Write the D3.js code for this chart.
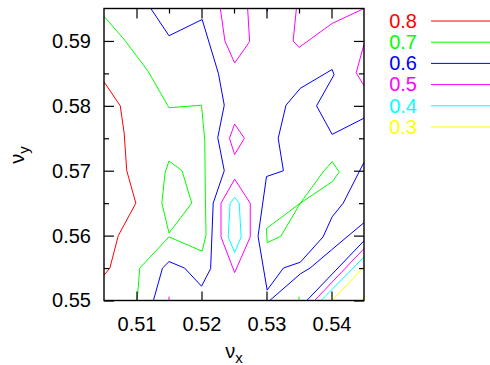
<!DOCTYPE html>
<html>
<head>
<meta charset="utf-8">
<script src="https://cdn.jsdelivr.net/npm/d3@7"></script>
<style>
  body { margin: 0; background: #fff; }
  svg { display: block; font-family: "Liberation Sans", Arial, sans-serif; }
</style>
</head>
<body>
<svg id="chart" width="490" height="365"></svg>
<script>
// contour levels (legend order) 
var levels = ["0.8", "0.7", "0.6", "0.5", "0.4", "0.3"];

// contour polylines per level, points are [nu_x, nu_y]
var c08 = [
  [[0.505,0.5837],[0.5075,0.5800],[0.5081,0.5758],[0.5085,0.5700],[0.5099,0.5650],[0.5072,0.5600],[0.5059,0.5550],[0.505,0.5539]]
];
var c07 = [
  [[0.505,0.5938],[0.5082,0.5901],[0.5118,0.5853],[0.5150,0.5797],[0.5200,0.5801],[0.5205,0.5747],[0.5206,0.5655],[0.5207,0.5601],[0.5201,0.5576],[0.5150,0.5598],[0.5105,0.5550],[0.5101,0.5500]],
  [[0.5150,0.5715],[0.5170,0.5700],[0.5185,0.5650],[0.5150,0.5604],[0.5139,0.5650],[0.5144,0.5697],[0.5150,0.5715]],
  [[0.5401,0.5714],[0.5412,0.5698],[0.5401,0.5683],[0.5352,0.5650],[0.5322,0.5599],[0.5301,0.5589],[0.5300,0.5611],[0.5352,0.5650],[0.5387,0.5698],[0.5401,0.5714]],
  [[0.5350,0.5500],[0.5350,0.5506]]
];
var c06 = [
  [[0.5122,0.595],[0.5150,0.5908],[0.5201,0.5933],[0.5226,0.5850],[0.5235,0.5801],[0.5225,0.5751],[0.5235,0.5700],[0.5218,0.5650],[0.5214,0.5549],[0.5200,0.5522],[0.5174,0.5550],[0.5150,0.5560],[0.5140,0.5550],[0.5126,0.5500]],
  [[0.545,0.5781],[0.5401,0.5756],[0.5377,0.5800],[0.5404,0.5848],[0.5401,0.5856],[0.5352,0.5827],[0.5330,0.5801],[0.5318,0.5750],[0.5326,0.5700],[0.5300,0.5691],[0.5287,0.5599],[0.5301,0.5516],[0.5326,0.5550],[0.5352,0.5559],[0.5387,0.5598],[0.5401,0.5629],[0.5418,0.5650],[0.545,0.5713]],
  [[0.5305,0.5500],[0.5352,0.5541],[0.5367,0.5550],[0.5400,0.5578],[0.545,0.5620]],
  [[0.5362,0.5500],[0.5407,0.5547],[0.545,0.5592]],
  [[0.5301,0.595],[0.5301,0.5945]]
];
var c05 = [
  [[0.5229,0.595],[0.5236,0.5900],[0.5251,0.5866],[0.5274,0.5899],[0.5271,0.595]],
  [[0.5346,0.595],[0.5341,0.5900],[0.5350,0.5890],[0.5401,0.5927],[0.545,0.595]],
  [[0.545,0.5895],[0.5438,0.5851],[0.545,0.5831]],
  [[0.5251,0.5772],[0.5266,0.5750],[0.5251,0.5725],[0.5243,0.5750],[0.5251,0.5772]],
  [[0.5251,0.5687],[0.5275,0.5650],[0.5275,0.5598],[0.5251,0.5543],[0.5230,0.5598],[0.5230,0.5650],[0.5251,0.5687]],
  [[0.5374,0.5500],[0.545,0.5580]],
  [[0.5150,0.5500],[0.5150,0.5506]]
];
var c04 = [
  [[0.5251,0.5659],[0.5258,0.5650],[0.5261,0.5598],[0.5251,0.5574],[0.5241,0.5598],[0.5244,0.5650],[0.5251,0.5659]],
  [[0.5384,0.5500],[0.545,0.5567]]
];
var c03 = [
  [[0.5401,0.5500],[0.545,0.5552]],
  [[0.545,0.5507],[0.5447,0.5500]]
];

var xMajor = [0.51, 0.52, 0.53, 0.54];
var xMinorTop = [0.515, 0.525, 0.535];
var yMajor = [0.55, 0.56, 0.57, 0.58, 0.59];
var yMinor = [0.555, 0.565, 0.575, 0.585];

var colors = ["#ff0000", "#00ff00", "#0000ff", "#ff00ff", "#00ffff", "#ffff00"];
var contours = [c08, c07, c06, c05, c04, c03];

var svg = d3.select('#chart');

var x = d3.scaleLinear().domain([0.505, 0.545]).range([104, 364]);
var y = d3.scaleLinear().domain([0.55, 0.595]).range([300.5, 8.5]);

var line = d3.line().x(d => x(d[0])).y(d => y(d[1]));

// contour lines
contours.forEach(function(set, i) {
    svg.append('g')
      .selectAll('path')
      .data(set)
      .join('path')
      .attr('d', line)
      .attr('fill', 'none')
      .attr('stroke', colors[i])
      .attr('stroke-width', 1);
});

// axes with inward ticks
function styleAxis(g) {
    g.select('.domain').remove();
    g.selectAll('line').attr('stroke', '#000').attr('stroke-width', 1.2);
    g.selectAll('text').attr('font-size', '20px').attr('fill', '#000')
      .attr('font-family', '"Liberation Sans", Arial, sans-serif');
}

svg.append('g')
  .attr('transform', 'translate(0,' + 300.5 + ')')
  .call(d3.axisBottom(x).tickValues(xMajor).tickSize(-9).tickPadding(16).tickFormat(d3.format('.2f')))
  .call(styleAxis);

svg.append('g')
  .attr('transform', 'translate(0,' + 8.5 + ')')
  .call(d3.axisTop(x).tickValues(xMajor).tickSize(-10).tickFormat(''))
  .call(styleAxis);
svg.append('g')
  .attr('transform', 'translate(0,' + 8.5 + ')')
  .call(d3.axisTop(x).tickValues(xMinorTop).tickSize(-5).tickFormat(''))
  .call(styleAxis);

svg.append('g')
  .attr('transform', 'translate(104,0)')
  .call(d3.axisLeft(y).tickValues(yMajor).tickSize(-10).tickPadding(13).tickFormat(d3.format('.2f')))
  .call(styleAxis);
svg.append('g')
  .attr('transform', 'translate(104,0)')
  .call(d3.axisLeft(y).tickValues(yMinor).tickSize(-5).tickFormat(''))
  .call(styleAxis);

svg.append('g')
  .attr('transform', 'translate(364,0)')
  .call(d3.axisRight(y).tickValues(yMajor).tickSize(-10).tickFormat(''))
  .call(styleAxis);
svg.append('g')
  .attr('transform', 'translate(364,0)')
  .call(d3.axisRight(y).tickValues(yMinor).tickSize(-5).tickFormat(''))
  .call(styleAxis);

// frame
svg.append('rect')
  .attr('x', 104).attr('y', 8.5)
  .attr('width', 260).attr('height', 292)
  .attr('fill', 'none')
  .attr('stroke', '#000')
  .attr('stroke-width', 1.4);

// axis titles
var xt = svg.append('text')
  .attr('x', 234).attr('y', 358)
  .attr('text-anchor', 'middle')
  .attr('font-size', '20px');
xt.append('tspan').text('ν');
xt.append('tspan').attr('font-size', '15px').attr('dy', 5).text('x');

var yt = svg.append('text')
  .attr('transform', 'translate(24,155) rotate(-90)')
  .attr('text-anchor', 'middle')
  .attr('font-size', '20px');
yt.append('tspan').text('ν');
yt.append('tspan').attr('font-size', '15px').attr('dy', 5).text('y');

// legend
var legend = svg.append('g');
levels.forEach(function(lv, i) {
    var ly = 21 + i * 21.2;
    legend.append('text')
      .attr('x', 417).attr('y', ly + 6.8)
      .attr('text-anchor', 'end')
      .attr('font-size', '20px')
      .attr('fill', colors[i])
      .text(lv);
    legend.append('line')
      .attr('x1', 431).attr('x2', 492)
      .attr('y1', ly).attr('y2', ly)
      .attr('stroke', colors[i])
      .attr('stroke-width', 1);
});
</script>
</body>
</html>
